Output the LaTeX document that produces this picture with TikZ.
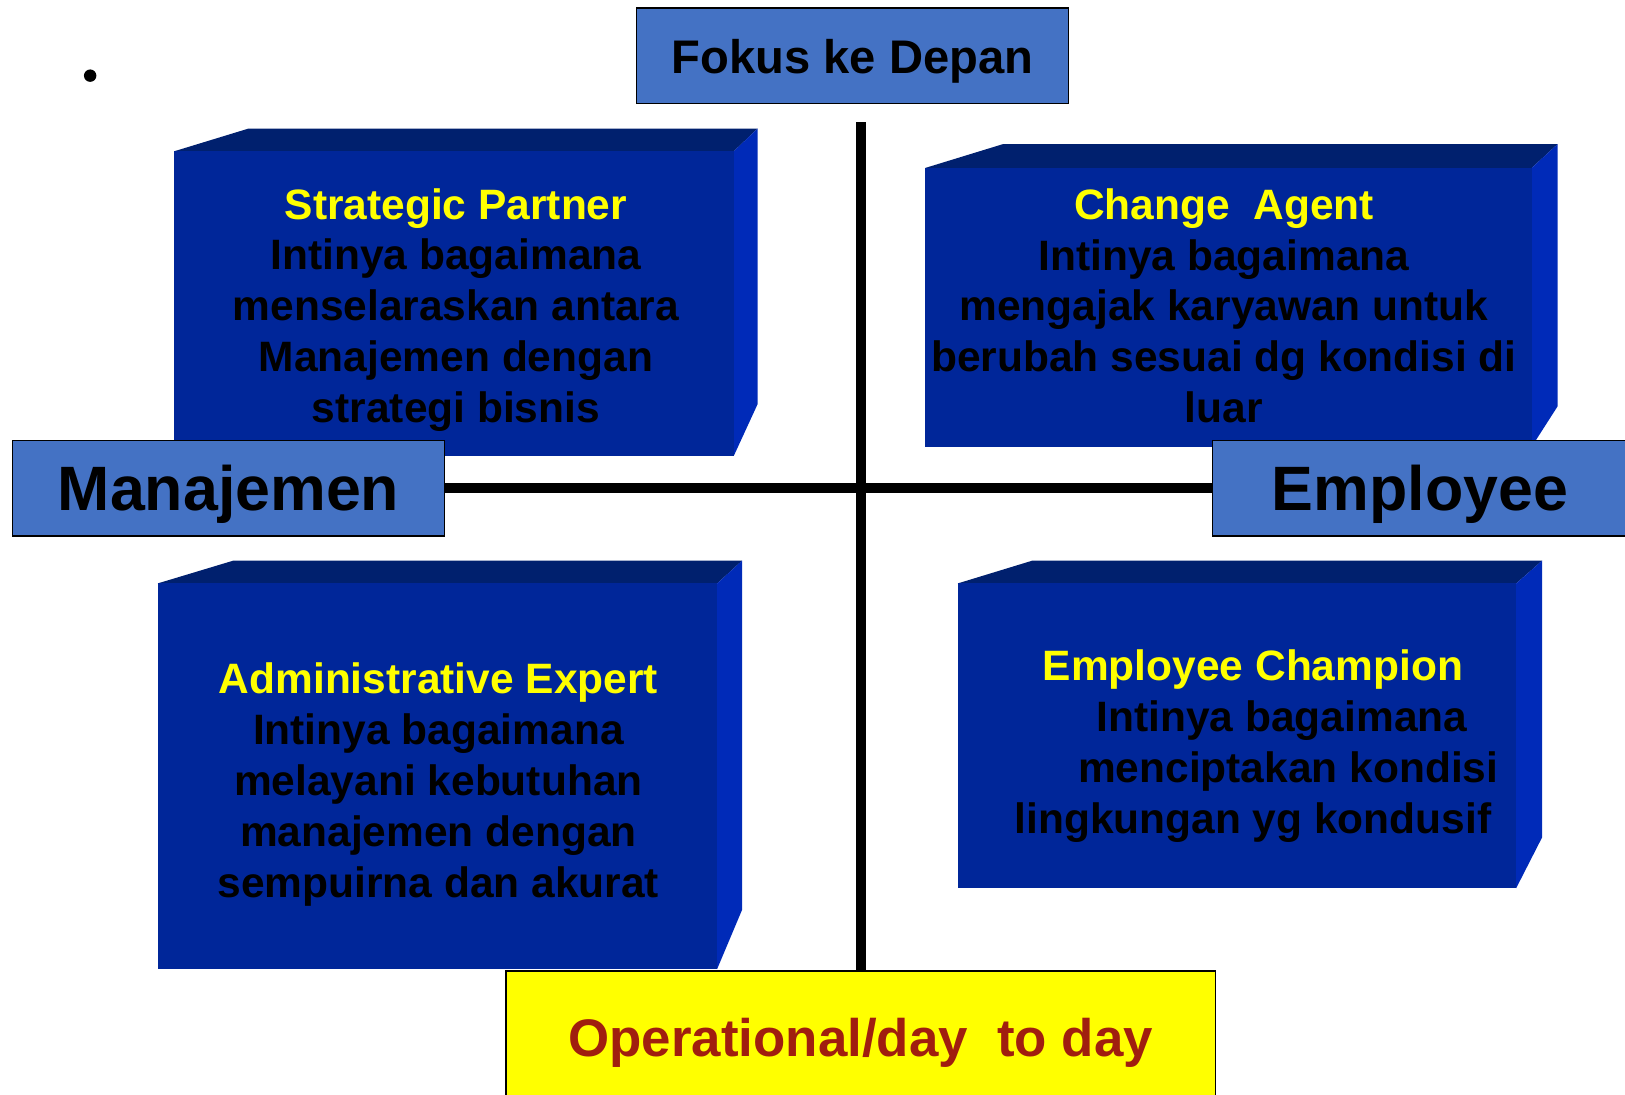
\documentclass[tikz,border=0pt]{standalone}
\usepackage{fontspec}
\setmainfont{Liberation Sans}
\usetikzlibrary{calc}

\definecolor{headblue}{RGB}{68,114,196}
\definecolor{slabfill}{RGB}{0,38,153}
\definecolor{slabdark}{RGB}{0,32,110}
\definecolor{slablight}{RGB}{0,42,184}
\definecolor{titleyellow}{RGB}{255,255,0}
\definecolor{operred}{RGB}{160,30,15}

\begin{document}
\begin{tikzpicture}[x=1pt, y=-1pt,
    headbox/.style={draw=black, line width=1.6pt, fill=headblue, inner sep=0pt, text depth=0pt},
    slabtext/.style={align=center, font=\bfseries\fontsize{41}{49}\selectfont},
    slabtop/.style={fill=slabdark},
    slabside/.style={fill=slablight},
    slabfront/.style={fill=slabfill},
    axisline/.style={line width=9.5pt}]

  \useasboundingbox (0,0) rectangle (1568,1056);

  % the four solid blocks
  \foreach \xa/\ya/\xb/\yb/\dl/\dr/\dy/\bend in
    {168/146/708/440/72/23/22/50, 893/162/1478/431/75/25/23/39,
     152/563/692/935/73/24/22/57, 924/563/1463/857/72/25/22/49} {
    \fill[slabtop] (\xa,\ya) -- (\xa+\dl,\ya-\dy) -- (\xb+\dr,\ya-\dy) -- (\xb,\ya) -- cycle;
    \fill[slabside] (\xb,\ya) -- (\xb+\dr,\ya-\dy) -- (\xb+\dr,\yb-\bend) -- (\xb,\yb) -- cycle;
    \fill[slabfront] (\xa,\ya) rectangle (\xb,\yb);
  }

  \node[slabtext] (partner) at (440,299)
    {\textcolor{titleyellow}{Strategic Partner}\\Intinya bagaimana\\menselaraskan antara\\Manajemen dengan\\strategi bisnis};
  \node[slabtext] (agent) at (1181,295)
    {\textcolor{titleyellow}{Change~~Agent}\\Intinya bagaimana\\mengajak karyawan untuk\\berubah sesuai dg kondisi di\\luar};
  \node[slabtext] (admin) at (423,757)
    {\textcolor{titleyellow}{Administrative Expert}\\Intinya bagaimana\\melayani kebutuhan\\manajemen dengan\\sempuirna dan akurat};
  \node[slabtext] (champion) at (1209,720)
    {\textcolor{titleyellow}{Employee Champion}\\\hspace*{56pt}Intinya bagaimana\\\hspace*{68pt}menciptakan kondisi\\lingkungan yg kondusif};

  \node[circle, fill=black, inner sep=0pt, minimum size=12pt] (dot) at (87,73) {};

  \node[headbox, minimum width=417pt, minimum height=92pt,
    font=\bfseries\fontsize{45.5}{54}\selectfont] (fokus) at (822.5,54) {Fokus ke Depan};
  \node[headbox, minimum width=417pt, minimum height=92pt,
    font=\bfseries\fontsize{60.5}{70}\selectfont] (manaj) at (220.5,471) {Manajemen};
  \node[headbox, minimum width=400pt, minimum height=92pt,
    font=\bfseries\fontsize{60.5}{70}\selectfont] (emp) at (1370,471) {Employee};
  \node[headbox, fill=titleyellow, minimum width=685pt, minimum height=128pt,
    font=\bfseries\fontsize{51}{60}\selectfont, text=operred] (oper) at (830.5,1001) {Operational/day~~to day};

  \draw[axisline] (manaj.east) -- (emp.west);
  \draw[axisline, shorten <=17pt] (oper.north |- fokus.south) -- (oper.north);

\end{tikzpicture}
\end{document}
